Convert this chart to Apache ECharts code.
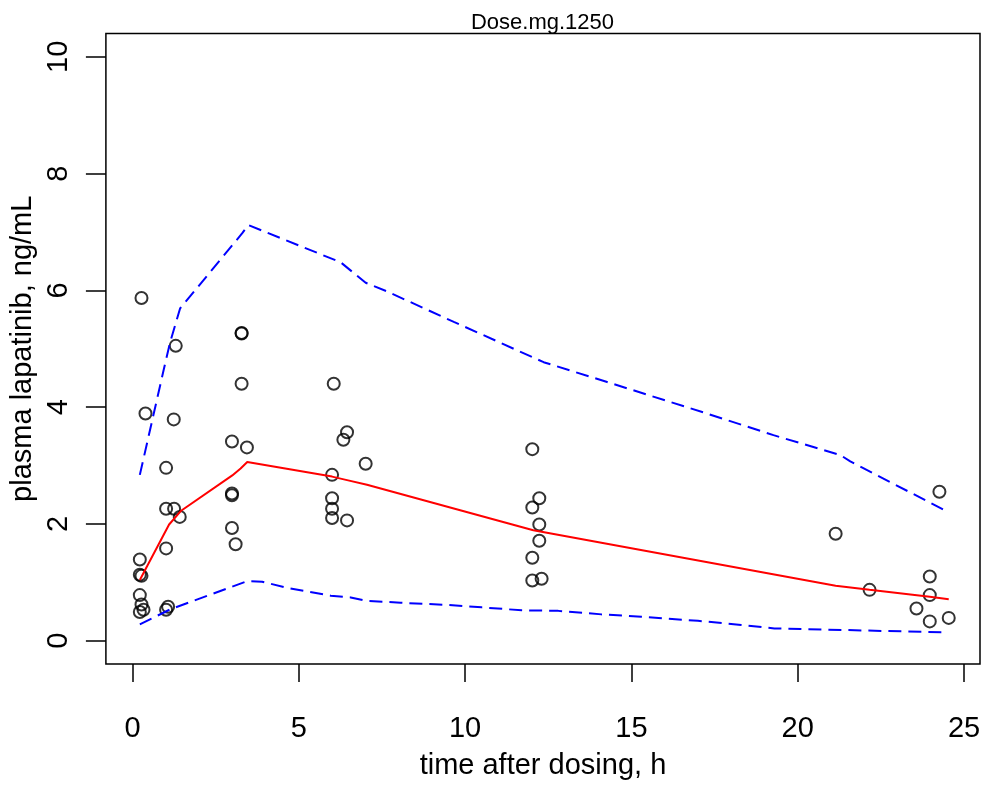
<!DOCTYPE html>
<html>
<head>
<meta charset="utf-8">
<title>Dose.mg.1250</title>
<script src="https://cdn.jsdelivr.net/npm/echarts@6/dist/echarts.min.js"></script>
<style>
  html, body { margin: 0; padding: 0; background: #fff; }
  #chart { width: 987px; height: 785px; }
</style>
</head>
<body>
<div id="chart"></div>
<script>
// Observed plasma concentrations (time in h, concentration in ng/mL)
const obsTime = [
  0.27, 1.30, 3.28, 3.28, 3.28, 0.39, 1.24, 6.05, 6.45, 6.34,
  2.99, 3.44, 1.01, 7.01, 6.00, 2.99, 2.99, 1.01, 1.25, 1.42,
  6.00, 6.00, 6.00, 6.45, 2.99, 3.10, 1.01, 0.22, 0.22, 0.27,
  0.22, 0.27, 0.33, 0.22, 1.07, 1.01,
  12.02, 12.23, 12.02, 12.23, 12.23, 12.02, 12.02, 12.30,
  24.26, 21.14, 22.16, 23.97, 23.97, 23.57, 23.97, 24.54
];
const obsConc = [
  5.87, 5.05, 5.27, 5.26, 4.40, 3.89, 3.79, 4.40, 3.57, 3.44,
  3.41, 3.31, 2.96, 3.03, 2.84, 2.52, 2.49, 2.26, 2.26, 2.12,
  2.44, 2.26, 2.10, 2.06, 1.93, 1.65, 1.58, 1.39, 1.13, 1.11,
  0.78, 0.62, 0.53, 0.49, 0.58, 0.53,
  3.28, 2.44, 2.28, 1.99, 1.71, 1.42, 1.03, 1.06,
  2.55, 1.83, 0.87, 1.10, 0.78, 0.55, 0.33, 0.39
];

// Median prediction (red solid line)
const medTime = [0.22, 1.10, 1.45, 3.00, 3.25, 3.45, 6.00, 6.45, 7.05, 12.05, 21.14, 22.16, 23.97, 24.54];
const medConc = [1.04, 1.99, 2.22, 2.83, 2.95, 3.06, 2.81, 2.75, 2.67, 1.89, 0.94, 0.87, 0.75, 0.71];

// Upper prediction bound (blue dashed)
const upTime = [0.22, 0.95, 1.13, 1.43, 3.30, 3.48, 6.26, 7.01, 7.66, 9.66, 12.36, 14.27, 17.27, 19.27, 21.28, 21.58, 24.43];
const upConc = [2.84, 4.67, 5.11, 5.69, 6.98, 7.12, 6.48, 6.13, 5.98, 5.46, 4.77, 4.43, 3.89, 3.52, 3.18, 3.07, 2.23];

// Lower prediction bound (blue dashed)
const loTime = [0.22, 1.15, 3.45, 3.90, 4.60, 5.96, 6.56, 7.06, 8.06, 9.50, 10.50, 11.70, 12.80, 14.10, 15.30, 17.00, 18.30, 19.30, 20.10, 24.50];
const loConc = [0.28, 0.54, 1.02, 1.01, 0.91, 0.77, 0.74, 0.68, 0.65, 0.61, 0.57, 0.52, 0.51, 0.45, 0.41, 0.34, 0.27, 0.21, 0.20, 0.14];

// Axis ticks
const xTicks = [0, 5, 10, 15, 20, 25];
const yTicks = [0, 2, 4, 6, 8, 10];

const zip = (a, b) => a.map((v, i) => [v, b[i]]);
const FONT = '"Liberation Sans", Arial, Helvetica, sans-serif';

const chart = echarts.init(document.getElementById('chart'), null, { renderer: 'canvas' });
chart.setOption({
  animation: false,
  backgroundColor: '#ffffff',
  title: {
    text: 'Dose.mg.1250',
    left: 542.5,
    top: 12,
    padding: 0,
    textAlign: 'center',
    textStyle: { fontFamily: FONT, fontSize: 22, fontWeight: 'normal', color: '#000' }
  },
  grid: {
    left: 105, right: 7, top: 33.5, bottom: 119.5,
    show: true,
    borderColor: '#000',
    borderWidth: 1.5,
    backgroundColor: 'transparent'
  },
  xAxis: {
    type: 'value',
    min: -0.8,
    max: 25.48,
    name: 'time after dosing, h',
    nameLocation: 'middle',
    nameGap: 87,
    nameTextStyle: { fontFamily: FONT, fontSize: 29, color: '#000' },
    axisLine: { show: false, onZero: false },
    splitLine: { show: false },
    axisTick: {
      show: true, length: 18, customValues: xTicks,
      lineStyle: { color: '#000', width: 1.5 }
    },
    axisLabel: {
      customValues: xTicks,
      margin: 50,
      fontFamily: FONT, fontSize: 29, color: '#000'
    }
  },
  yAxis: {
    type: 'value',
    min: -0.4,
    max: 10.4,
    name: 'plasma lapatinib, ng/mL',
    nameLocation: 'middle',
    nameGap: 57,
    nameTextStyle: { fontFamily: FONT, fontSize: 29, color: '#000' },
    axisLine: { show: false, onZero: false },
    splitLine: { show: false },
    axisTick: {
      show: true, length: 20, customValues: yTicks,
      lineStyle: { color: '#000', width: 1.5 }
    },
    axisLabel: {
      customValues: yTicks,
      rotate: 90,
      margin: 32,
      fontFamily: FONT, fontSize: 29, color: '#000'
    }
  },
  series: [
    {
      type: 'scatter',
      data: zip(obsTime, obsConc),
      symbol: 'circle',
      symbolSize: 12,
      itemStyle: { color: 'transparent', borderColor: '#000', borderWidth: 2 },
      z: 2
    },
    {
      type: 'line',
      data: zip(medTime, medConc),
      showSymbol: false,
      lineStyle: { color: '#ff0000', width: 2 },
      z: 3
    },
    {
      type: 'line',
      data: zip(upTime, upConc),
      showSymbol: false,
      lineStyle: { color: '#0000ff', width: 2, type: [13, 7] },
      z: 3
    },
    {
      type: 'line',
      data: zip(loTime, loConc),
      showSymbol: false,
      lineStyle: { color: '#0000ff', width: 2, type: [13, 7] },
      z: 3
    }
  ]
});
</script>
</body>
</html>
